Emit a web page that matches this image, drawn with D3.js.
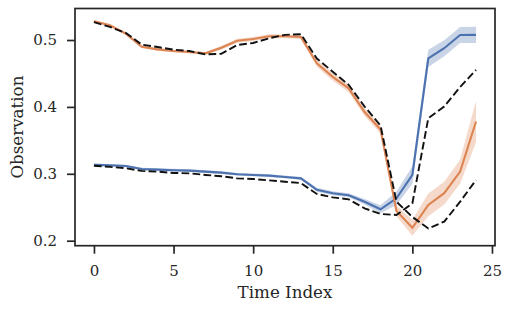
<!DOCTYPE html>
<html><head><meta charset="utf-8">
<script src="https://cdn.jsdelivr.net/npm/d3@7/dist/d3.min.js"></script>
<style>html,body{margin:0;padding:0;background:#fff}svg{display:block}</style>
</head><body>
<svg id="c" width="511" height="311"></svg>
<script>
const timeIndex = d3.range(0, 25);
const blueMean = [0.3134,0.3127,0.3117,0.3072,0.3062,0.3054,0.3048,0.3033,0.3017,0.2993,0.2983,0.2973,0.2953,0.2932,0.2761,0.271,0.2679,0.2583,0.247,0.2634,0.2983,0.4726,0.4877,0.5075,0.5077];
const blueErr = [0.002,0.002,0.002,0.002,0.002,0.002,0.002,0.002,0.002,0.002,0.002,0.002,0.002,0.002,0.003,0.003,0.003,0.004,0.006,0.010,0.013,0.013,0.012,0.012,0.012];
const orangeMean = [0.5279,0.5221,0.5096,0.49,0.486,0.4835,0.482,0.4801,0.4885,0.4989,0.5016,0.5056,0.5056,0.5046,0.4652,0.445,0.4278,0.3924,0.3661,0.2446,0.2193,0.2534,0.271,0.3033,0.3782];
const orangeErr = [0.002,0.002,0.002,0.002,0.002,0.002,0.002,0.002,0.003,0.003,0.003,0.003,0.003,0.003,0.005,0.006,0.006,0.006,0.006,0.008,0.012,0.017,0.017,0.018,0.031];
const dashedUpper = [0.5266,0.5196,0.5106,0.4931,0.4895,0.4855,0.4835,0.4784,0.4794,0.4926,0.4955,0.5026,0.5077,0.5087,0.4723,0.4527,0.4329,0.4005,0.3722,0.2583,0.2355,0.2183,0.2285,0.2583,0.2908];
const dashedLower = [0.3121,0.3104,0.3083,0.3043,0.3032,0.3013,0.3007,0.2983,0.2963,0.2932,0.2922,0.2902,0.2882,0.2861,0.2699,0.2648,0.2618,0.2484,0.2399,0.2385,0.2558,0.383,0.4005,0.4298,0.4553];
const xTicks = [0,5,10,15,20,25];
const yTicks = [0.2,0.3,0.4,0.5];

const svg = d3.select('#c');
const L = 75, R = 495, T = 8.5, B = 245.7;
const x = d3.scaleLinear().domain([-1.19, 25.19]).range([L, R]);
const y = d3.scaleLinear().domain([0.19253, 0.54709]).range([B, T]);
const font = "'DejaVu Serif', serif";
const ink = '#262626';

function band(mean, err, color) {
  const area = d3.area().x((d,i)=>x(timeIndex[i])).y0((d,i)=>y(mean[i]-err[i])).y1((d,i)=>y(mean[i]+err[i]));
  svg.append('path').attr('d', area(mean)).attr('fill', color).attr('fill-opacity', 0.3).attr('stroke','none');
}
const line = d3.line().x((d,i)=>x(timeIndex[i])).y(d=>y(d));
band(blueMean, blueErr, '#4c72b0');
band(orangeMean, orangeErr, '#dd8452');
svg.append('path').attr('d', line(blueMean)).attr('fill','none').attr('stroke','#4c72b0').attr('stroke-width',2.1);
svg.append('path').attr('d', line(orangeMean)).attr('fill','none').attr('stroke','#dd8452').attr('stroke-width',2.1);
[dashedUpper, dashedLower].forEach(s=>{
  svg.append('path').attr('d', line(s)).attr('fill','none').attr('stroke','#111').attr('stroke-width',1.9).attr('stroke-dasharray','7.7,3.3');
});

// frame
svg.append('rect').attr('x',L).attr('y',T).attr('width',R-L).attr('height',B-T).attr('fill','none').attr('stroke',ink).attr('stroke-width',1.7);

const xAxis = svg.append('g').attr('transform',`translate(0,${B})`)
  .call(d3.axisBottom(x).tickValues(xTicks).tickFormat(d3.format('d')).tickSize(8).tickPadding(11.5));
const yAxis = svg.append('g').attr('transform',`translate(${L},0)`)
  .call(d3.axisLeft(y).tickValues(yTicks).tickFormat(d3.format('.1f')).tickSize(8).tickPadding(10));
[xAxis,yAxis].forEach(g=>{
  g.select('.domain').remove();
  g.selectAll('line').attr('stroke',ink).attr('stroke-width',1.7);
  g.selectAll('text').attr('fill',ink).style('font-family',font).style('font-size','15px');
});
svg.append('text').attr('x',(L+R)/2).attr('y',298).attr('text-anchor','middle')
  .style('font-family',font).style('font-size','16.7px').attr('fill',ink).text('Time Index');
svg.append('text').attr('transform',`translate(23.3,${(T+B)/2}) rotate(-90)`).attr('text-anchor','middle')
  .style('font-family',font).style('font-size','16.7px').attr('fill',ink).text('Observation');
</script>
</body></html>
